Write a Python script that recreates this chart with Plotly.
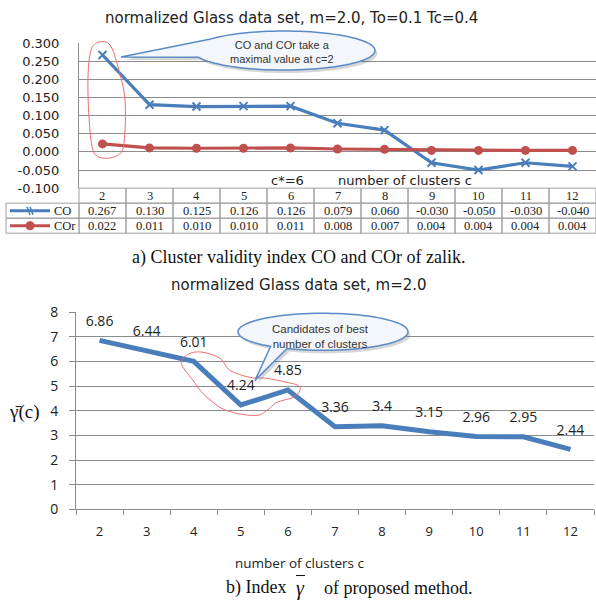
import plotly.graph_objects as go
import numpy as np

# ---------------- data ----------------
clusters = ["2", "3", "4", "5", "6", "7", "8", "9", "10", "11", "12"]
co_values = [0.267, 0.130, 0.125, 0.126, 0.126, 0.079, 0.060, -0.030, -0.050, -0.030, -0.040]
cor_values = [0.022, 0.011, 0.010, 0.010, 0.011, 0.008, 0.007, 0.004, 0.004, 0.004, 0.004]
gamma_values = [6.86, 6.44, 6.01, 4.24, 4.85, 3.36, 3.4, 3.15, 2.96, 2.95, 2.44]
top_tick_vals = [-0.1, -0.05, 0.0, 0.05, 0.1, 0.15, 0.2, 0.25, 0.3]
top_tick_text = ["-0.100", "-0.050", "0.000", "0.050", "0.100", "0.150", "0.200", "0.250", "0.300"]
bottom_tick_vals = [0, 1, 2, 3, 4, 5, 6, 7, 8]
row_names = ["CO", "COr"]

W, FIG_H = 596, 611
OFF, K = 10.0, 0.968   # observed page->picture vertical mapping
def X(px):
    return px / W
def Y(py):
    page = (py - OFF) / K
    return 1 - page / FIG_H

BLUE = "#4a7ebb"
RED = "#c0504d"
GRID = "#8c8c8c"
TBL = "#a0a0a0"
SANS = "DejaVu Sans"
SERIF = "Liberation Serif"

fig = go.Figure()

fig.add_trace(go.Scatter(x=clusters, y=co_values, mode="lines+markers", name="CO",
                         line=dict(color=BLUE, width=3.2),
                         marker=dict(symbol="x-thin", size=8, line=dict(color=BLUE, width=2)),
                         xaxis="x", yaxis="y", showlegend=False, hoverinfo="skip"))
fig.add_trace(go.Scatter(x=clusters, y=cor_values, mode="lines+markers", name="COr",
                         line=dict(color=RED, width=3.2),
                         marker=dict(symbol="circle", size=9, color=RED),
                         xaxis="x", yaxis="y", showlegend=False, hoverinfo="skip"))

fig.add_trace(go.Scatter(x=clusters, y=gamma_values, mode="lines+markers+text",
                         text=[str(v) for v in gamma_values], textposition="top center",
                         textfont=dict(family="Open Sans", size=14, color="#222"),
                         line=dict(color=BLUE, width=5),
                         marker=dict(size=16, color="rgba(0,0,0,0)"),
                         xaxis="x2", yaxis="y2", showlegend=False, hoverinfo="skip"))

fig.update_layout(
    width=W, height=FIG_H, margin=dict(l=0, r=0, t=0, b=0),
    paper_bgcolor="white", plot_bgcolor="white", showlegend=False,
    xaxis=dict(domain=[X(79), 1], type="category", range=[-0.5, 10.5],
               showticklabels=False, showgrid=False, zeroline=False, showline=False, ticks=""),
    yaxis=dict(domain=[Y(188), Y(43)], range=[-0.1, 0.3], tickvals=top_tick_vals,
               ticktext=top_tick_text, showgrid=True, gridcolor=GRID, gridwidth=1,
               zeroline=False, showline=True, linecolor=GRID, ticks="",
               ticklabelstandoff=16,
               tickfont=dict(family=SANS, size=13, color="#222")),
    xaxis2=dict(domain=[X(76), X(594)], type="category", range=[-0.5, 10.5],
                anchor="y2", showgrid=False, zeroline=False, showline=True, linecolor=GRID,
                ticks="outside", tickson="boundaries", ticklen=5, tickcolor=GRID,
                tickfont=dict(family="Open Sans", size=13, color="#222"),
                ticklabelstandoff=10),
    yaxis2=dict(domain=[Y(509), Y(312)], range=[0, 8], tickvals=bottom_tick_vals,
                anchor="x2", showgrid=True, gridcolor=GRID, gridwidth=1, zeroline=False,
                showline=True, linecolor=GRID, ticks="outside", ticklen=6, tickcolor=GRID,
                ticklabelstandoff=8,
                tickfont=dict(family="Open Sans", size=14, color="#222")),
)

ann = []
def add_text(text, x, y, size, family=SANS, color="#222", xanchor="center"):
    ann.append(dict(text=text, x=X(x), y=Y(y), xref="paper", yref="paper",
                    xanchor=xanchor, yanchor="middle", showarrow=False,
                    font=dict(family=family, size=size, color=color)))

add_text("normalized Glass data set, m=2.0, To=0.1 Tc=0.4", 291, 18, 15)
add_text("c*=6", 287, 180, 13)
add_text("number of clusters c", 405, 180, 13)
add_text("a) Cluster validity index CO and COr of zalik.", 298, 257, 18, family=SERIF, color="#111")
add_text("normalized Glass data set, m=2.0", 299, 285, 15)
add_text("number of clusters c", 300, 562, 13.5, family="Open Sans")
add_text("γ\u0304(c)", 24, 412, 19, family=SERIF, color="#111")
add_text("b) Index", 288, 587, 18, family=SERIF, color="#111", xanchor="right")
add_text("<i>γ</i>", 300, 588, 20, family=SERIF, color="#111")
add_text("of proposed method.", 322, 587, 18, family=SERIF, color="#111", xanchor="left")
add_text("CO and COr take a<br>maximal value at c=2", 282, 52, 11, family="Liberation Sans", color="#333")
add_text("Candidates of best<br>number of clusters", 320, 336, 11.5, family="Liberation Sans", color="#333")

shapes = []

T_LEFT, T_COL0, COLW = 6, 79, 47
ROW_TOP = [188, 203, 218]
ROW_H = 15
def rect(x0, y0, x1, y1):
    shapes.append(dict(type="rect", xref="paper", yref="paper", x0=X(x0), x1=X(x1), y0=Y(y1), y1=Y(y0),
                       line=dict(color=TBL, width=1), fillcolor="rgba(0,0,0,0)", layer="above"))

for i, lab in enumerate(clusters):
    x0 = T_COL0 + i * COLW
    rect(x0, ROW_TOP[0], x0 + COLW, ROW_TOP[0] + ROW_H)
    add_text(lab, x0 + COLW / 2, ROW_TOP[0] + ROW_H / 2 + 0.5, 12.5, family=SERIF, color="#222")
    for r, vals in enumerate((co_values, cor_values)):
        y0 = ROW_TOP[r + 1]
        rect(x0, y0, x0 + COLW, y0 + ROW_H)
        add_text(f"{vals[i]:.3f}", x0 + COLW / 2, y0 + ROW_H / 2 + 0.5, 12.5, family=SERIF, color="#222")
for r, name in enumerate(row_names):
    y0 = ROW_TOP[r + 1]
    rect(T_LEFT, y0, T_COL0, y0 + ROW_H)
    add_text(name, 52, y0 + ROW_H / 2 + 0.5, 12.5, family=SERIF, color="#222", xanchor="left")

fig.update_layout(annotations=ann)

def to_path(pts, close=True):
    s = "M " + " L ".join(f"{X(x):.5f},{Y(y):.5f}" for x, y in pts)
    return s + (" Z" if close else "")

def callout(cx, cy, rx, ry, t1, t2, tip):
    ts = np.radians(np.linspace(t2, t1 + 360, 90))
    pts = [(cx + rx * np.cos(t), cy + ry * np.sin(t)) for t in ts] + [tip]
    shadow = [(x + 2.5, y + 3) for x, y in pts]
    shapes.append(dict(type="path", path=to_path(shadow), xref="paper", yref="paper",
                       fillcolor="rgba(90,90,90,0.25)", line=dict(width=0)))
    shapes.append(dict(type="path", path=to_path(pts), xref="paper", yref="paper",
                       fillcolor="#f3f6fb", line=dict(color="#5b8ac6", width=1.5)))

def smooth_loop(pts, n=8):
    pts = np.array(pts, float)
    m = len(pts)
    out = []
    for i in range(m):
        p0, p1, p2, p3 = pts[i - 1], pts[i], pts[(i + 1) % m], pts[(i + 2) % m]
        for t in np.linspace(0, 1, n, endpoint=False):
            t2, t3 = t * t, t * t * t
            out.append(0.5 * ((2 * p1) + (-p0 + p2) * t + (2 * p0 - 5 * p1 + 4 * p2 - p3) * t2
                              + (-p0 + 3 * p1 - 3 * p2 + p3) * t3))
    return [tuple(p) for p in out]

red_top = [(99, 42), (110, 45), (118, 67), (125, 100), (124, 143), (118, 155), (103, 158),
           (93, 150), (89, 117), (88, 77), (91, 50)]
red_bottom = [(182, 360), (190, 353), (203, 352), (220, 358), (230, 370), (250, 377), (267, 378),
              (287, 382), (298, 385), (300, 390), (293, 397), (277, 402), (267, 410), (257, 415),
              (237, 413), (220, 407), (203, 393), (193, 380), (183, 367)]
for loop in (red_top, red_bottom):
    shapes.append(dict(type="path", path=to_path(smooth_loop(loop)), xref="paper", yref="paper",
                       line=dict(color="#ee6b6b", width=1), fillcolor="rgba(0,0,0,0)"))

callout(284, 50.5, 91, 19.5, 160, 215, (121, 57))
callout(323, 331.5, 85, 18.5, 115, 128, (255, 380))

shapes.append(dict(type="line", xref="paper", yref="paper", x0=X(10), x1=X(50), y0=Y(210.5), y1=Y(210.5),
                   line=dict(color=BLUE, width=3)))
for dx in (-1.5, 1.5):
    shapes.append(dict(type="line", xref="paper", yref="paper", x0=X(30 + dx - 1.5), x1=X(30 + dx + 1.5),
                       y0=Y(206.5), y1=Y(214.5), line=dict(color=BLUE, width=1.5)))
shapes.append(dict(type="line", xref="paper", yref="paper", x0=X(10), x1=X(50), y0=Y(225.5), y1=Y(225.5),
                   line=dict(color=RED, width=3)))
shapes.append(dict(type="circle", xref="paper", yref="paper", x0=X(26), x1=X(34), y0=Y(229.5), y1=Y(221.5),
                   fillcolor=RED, line=dict(color=RED, width=1)))
shapes.append(dict(type="line", xref="paper", yref="paper", x0=X(296), x1=X(305), y0=Y(575), y1=Y(575),
                   line=dict(color="#111", width=1)))

fig.update_layout(shapes=shapes)
fig.write_html("out.html", config={"displayModeBar": False},
               post_script="document.body.style.margin='0px';")
